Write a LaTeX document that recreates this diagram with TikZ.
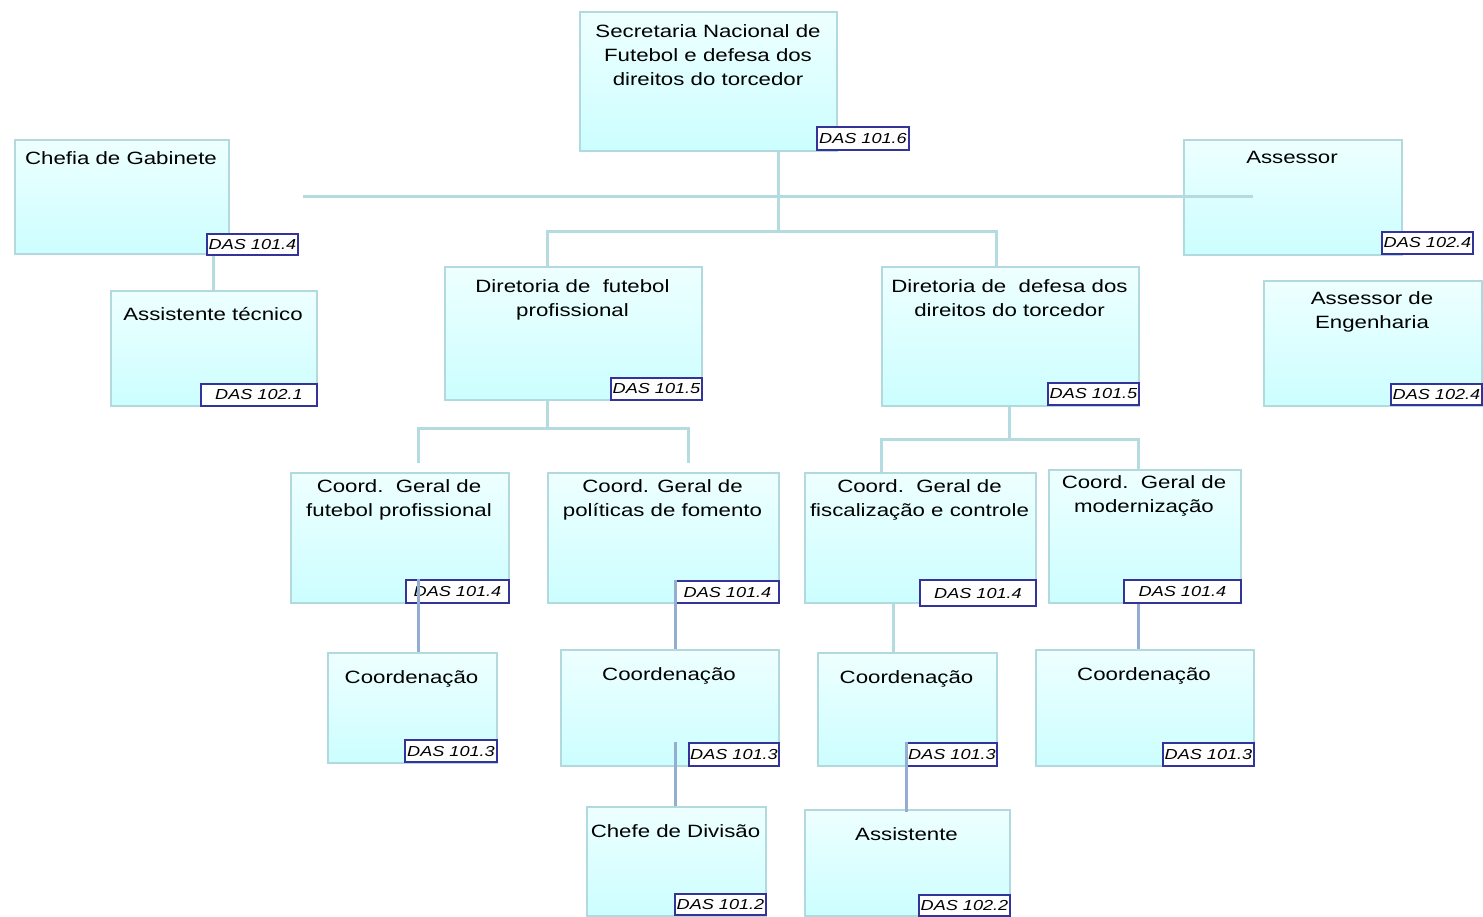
\documentclass[tikz,border=0pt]{standalone}
\usepackage{fontspec}
\setmainfont{Liberation Sans}[FakeStretch=1.25]
\definecolor{boxtop}{HTML}{EEFFFF}
\definecolor{boxbot}{HTML}{CCFEFF}
\definecolor{boxline}{HTML}{B2D9DD}
\definecolor{connlight}{HTML}{B4DCE0}
\definecolor{conndark}{HTML}{94AED3}
\definecolor{dasline}{HTML}{333399}
\tikzset{
  obox/.style={draw=boxline, line width=2pt, top color=boxtop, bottom color=boxbot, inner sep=0pt, rectangle},
  otxt/.style={inner sep=0pt, align=center, font=\fontsize{17.8}{24}\selectfont, text=black},
  dasst/.style={draw=dasline, line width=2pt, fill=white, inner sep=0pt, font=\fontsize{14.5}{16}\selectfont\itshape, text=black},
  connl/.style={draw=connlight, line width=3pt},
  connd/.style={draw=conndark, line width=3pt},
}
\newcommand{\orgbox}[5]{\node[obox, minimum width={#4-#2}, minimum height={#5-#3}, anchor=north west] (#1) at (#2,#3) {};}
\newcommand{\otext}[4]{\node[otxt, anchor=north] (#1) at (#2,#3) {#4};}
\newcommand{\dasbox}[6]{\node[dasst, minimum width={#4-#2}, minimum height={#5-#3}, anchor=north west] (#1) at (#2,#3) {#6};}
\begin{document}
\begin{tikzpicture}[x=1pt,y=-1pt]
\useasboundingbox (0,0) rectangle (1483,916);

% coordinates for junctions and free ends
\coordinate (j0) at (778,231);
\coordinate (j1) at (547,428);
\coordinate (j2) at (1009,439);
\coordinate (c1a) at (418,463);
\coordinate (c1b) at (688,463);
\coordinate (hl) at (303,196);
\coordinate (hr) at (1253,196);

% boxes
\orgbox{sec}{579}{11}{836}{150}
\orgbox{chefia}{14}{139}{228}{253}
\orgbox{asstec}{110}{290}{316}{405}
\orgbox{assessor}{1183}{139}{1401}{254}
\orgbox{asseng}{1263}{280}{1481}{405}
\orgbox{dirf}{444}{266}{701}{399}
\orgbox{dird}{881}{266}{1138}{405}
\orgbox{cg1}{290}{472}{508}{602}
\orgbox{cg2}{547}{472}{778}{602}
\orgbox{cg3}{804}{472}{1035}{602}
\orgbox{cg4}{1048}{469}{1240}{602}
\orgbox{co1}{327}{652}{496}{762}
\orgbox{co2}{560}{649}{778}{765}
\orgbox{co3}{817}{652}{996}{765}
\orgbox{co4}{1035}{649}{1253}{765}
\orgbox{chefe}{586}{806}{765}{915}
\orgbox{assist}{804}{809}{1009}{915}

% light connectors
\draw[connl] (sec.south -| j0) -- (j0);
\draw[connl] (dirf.north -| 547,0) |- (j0) -| (dird.north -| 996,0);
\draw[connl] (chefia.south -| 213,0) -- (asstec.north -| 213,0);
\draw[connl] (dirf.south -| j1) -- (j1);
\draw[connl] (c1a) |- (j1) -| (c1b);
\draw[connl] (dird.south -| j2) -- (j2);
\draw[connl] (cg3.north -| 881,0) |- (j2) -| (cg4.north -| 1138,0);
\draw[connl] (cg3.south -| 893,0) -- (co3.north -| 893,0);

% texts
\otext{sec-t}{708}{24}{Secretaria Nacional de\\Futebol e defesa dos\\direitos do torcedor}
\otext{chefia-t}{121}{151}{Chefia de Gabinete}
\otext{asstec-t}{213}{307}{Assistente técnico}
\otext{assessor-t}{1292}{151}{Assessor}
\otext{asseng-t}{1372}{291}{Assessor de\\Engenharia}
\otext{dirf-t}{572.5}{279}{Diretoria de\ \ futebol\\profissional}
\otext{dird-t}{1009.5}{279}{Diretoria de\ \ defesa dos\\direitos do torcedor}
\otext{cg1-t}{399}{479}{Coord.\ \ Geral de\\futebol profissional}
\otext{cg2-t}{662.5}{479}{Coord. Geral de\\políticas de fomento}
\otext{cg3-t}{919.5}{479}{Coord.\ \ Geral de\\fiscalização e controle}
\otext{cg4-t}{1144}{475}{Coord.\ \ Geral de\\modernização}
\otext{co1-t}{411.5}{670}{Coordenação}
\otext{co2-t}{669}{667}{Coordenação}
\otext{co3-t}{906.5}{670}{Coordenação}
\otext{co4-t}{1144}{667}{Coordenação}
\otext{chefe-t}{675.5}{824}{Chefe de Divisão}
\otext{assist-t}{906.5}{827}{Assistente}

% DAS labels
\dasbox{das1}{816}{126}{908}{149}{DAS 101.6}
\dasbox{das2}{206}{233}{297}{254}{DAS 101.4}
\dasbox{das3}{200}{383}{316}{405}{DAS 102.1}
\dasbox{das4}{1381}{231}{1472}{253}{DAS 102.4}
\dasbox{das5}{1390}{383}{1481}{404}{DAS 102.4}
\dasbox{das6}{610}{377}{701}{399}{DAS 101.5}
\dasbox{das7}{1047}{382}{1138}{404}{DAS 101.5}
\dasbox{das8}{405}{579}{508}{602}{DAS 101.4}
\dasbox{das9}{675}{580}{778}{602}{DAS 101.4}
\dasbox{das10}{919}{579}{1035}{605}{DAS 101.4}
\dasbox{das11}{1123}{579}{1240}{602}{DAS 101.4}
\dasbox{das12}{404}{739}{496}{761}{DAS 101.3}
\dasbox{das13}{688}{742}{778}{765}{DAS 101.3}
\dasbox{das14}{906}{742}{996}{765}{DAS 101.3}
\dasbox{das15}{1162}{742}{1253}{765}{DAS 101.3}
\dasbox{das16}{674}{893}{765}{914}{DAS 101.2}
\dasbox{das17}{918}{894}{1009}{915}{DAS 102.2}

% free horizontal line over boxes
\draw[connl] (hl) -- (hr);

% dark connectors drawn on top
\draw[connd] (das8.north -| 418,0) -- (co1.north -| 418,0);
\draw[connd] (das9.north -| 675,0) -- (co2.north -| 675,0);
\draw[connd] (das11.south -| 1138,0) -- (co4.north -| 1138,0);
\draw[connd] (das13.north -| 675,0) -- (chefe.north -| 675,0);
\draw[connd] (das14.north -| 906,0) -- ([yshift=-3pt]assist.north -| 906,0);
\end{tikzpicture}
\end{document}
